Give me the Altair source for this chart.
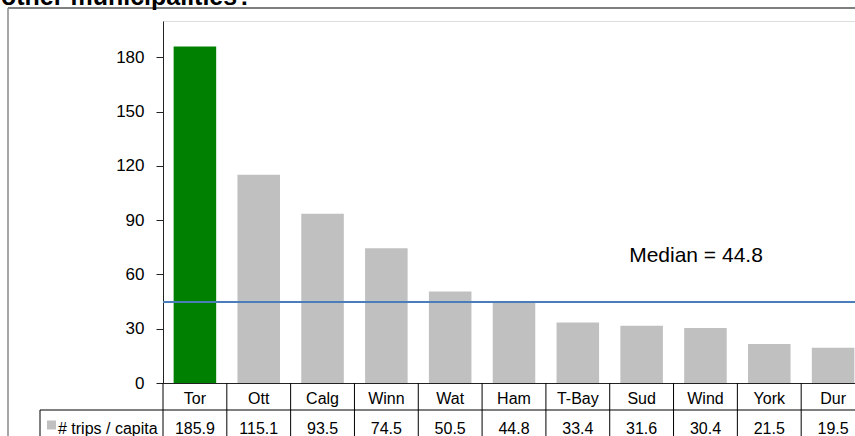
import altair as alt
import pandas as pd

# Trips per capita by municipality
cities = ["Tor", "Ott", "Calg", "Winn", "Wat", "Ham", "T-Bay", "Sud", "Wind", "York", "Dur"]
trips = [185.9, 115.1, 93.5, 74.5, 50.5, 44.8, 33.4, 31.6, 30.4, 21.5, 19.5]
median_value = 44.8
y_ticks = [0, 30, 60, 90, 120, 150, 180]
series_label = "# trips / capita"
title_text = "other municipalities?"

FONT = "Liberation Sans"
PLOT_W = 692          # visible plot width
RANGE_W = 702         # band range (last column runs past the edge)
PLOT_H = 362
STEP = RANGE_W / len(cities)

df = pd.DataFrame({"city": cities, "trips": trips})
df["label"] = df["trips"].map(lambda v: f"{v:.1f}")

x_enc = alt.X(
    "city:N",
    sort=cities,
    scale=alt.Scale(range=[0, RANGE_W], paddingInner=1 / 3, paddingOuter=1 / 6),
    axis=alt.Axis(title=None, labels=False, ticks=False, domain=True,
                  domainColor="#222", domainWidth=1),
)

base = alt.Chart(df)

bars = base.mark_bar().encode(
    x=x_enc,
    y=alt.Y(
        "trips:Q",
        scale=alt.Scale(domain=[0, 200], nice=False),
        axis=alt.Axis(title=None, values=y_ticks, grid=False, tickSize=7,
                      tickColor="#222", domainColor="#222", labelPadding=12,
                      labelFontSize=17, labelFont=FONT, labelColor="#000"),
    ),
    color=alt.condition(alt.datum.city == "Tor", alt.value("#008000"), alt.value("#c0c0c0")),
)

# Data table under the axis: column separators, category names and values
col_lines = base.mark_rule(color="#000", strokeWidth=1, xOffset=-STEP / 2).encode(
    x=alt.X("city:N", sort=cities),
    y=alt.value(PLOT_H),
    y2=alt.value(PLOT_H + 80),
)

names = base.mark_text(font=FONT, fontSize=16, baseline="alphabetic", color="#000").encode(
    x=alt.X("city:N", sort=cities),
    y=alt.value(PLOT_H + 21),
    text="city:N",
)

values = base.mark_text(font=FONT, fontSize=16, baseline="alphabetic", color="#000").encode(
    x=alt.X("city:N", sort=cities),
    y=alt.value(PLOT_H + 51),
    text="label:N",
)

one = alt.Chart(pd.DataFrame({"v": [median_value]}))

row_line = one.mark_rule(color="#000", strokeWidth=1).encode(
    x=alt.value(-123), x2=alt.value(RANGE_W), y=alt.value(PLOT_H + 27)
)
box_left = one.mark_rule(color="#000", strokeWidth=1).encode(
    x=alt.value(-123), y=alt.value(PLOT_H + 27), y2=alt.value(PLOT_H + 80)
)
legend_key = one.mark_square(size=81, color="#c0c0c0", opacity=1).encode(
    x=alt.value(-111.5), y=alt.value(PLOT_H + 42)
)
legend_text = one.mark_text(font=FONT, fontSize=16, align="left", baseline="alphabetic",
                            color="#000").encode(
    x=alt.value(-105), y=alt.value(PLOT_H + 51), text=alt.value(series_label)
)

# Median reference line and its label
median_line = one.mark_rule(color="#4a7ebb", strokeWidth=2).encode(
    x=alt.value(0), x2=alt.value(RANGE_W), y=alt.Y("v:Q")
)
median_text = one.mark_text(font=FONT, fontSize=21, align="center", baseline="alphabetic",
                            color="#000").encode(
    x=alt.value(533), y=alt.value(241),
    text=alt.value(f"Median = {median_value}"),
)

# Chart frame and the title line running off the top
frame_top = one.mark_rule(color="#555", strokeWidth=1.5).encode(
    x=alt.value(-155), x2=alt.value(RANGE_W), y=alt.value(-13)
)
frame_left = one.mark_rule(color="#888", strokeWidth=1.5).encode(
    x=alt.value(-155), y=alt.value(-13), y2=alt.value(PLOT_H + 80)
)
title = one.mark_text(font=FONT, fontSize=25, fontWeight="bold", align="left",
                      baseline="alphabetic", color="#000").encode(
    x=alt.value(-162), y=alt.value(-16), text=alt.value(title_text)
)

chart = (
    alt.layer(bars, median_line, median_text, col_lines, names, values, row_line,
              box_left, legend_key, legend_text, frame_top, frame_left, title)
    .properties(
        width=PLOT_W,
        height=PLOT_H,
        autosize=alt.AutoSizeParams(type="none"),
        padding={"left": 163, "top": 21, "right": 0, "bottom": 53},
    )
    .configure_view(stroke=None)
    .configure(background="white")
)

chart.save("out.html", embed_options={"renderer": "svg", "actions": False})
